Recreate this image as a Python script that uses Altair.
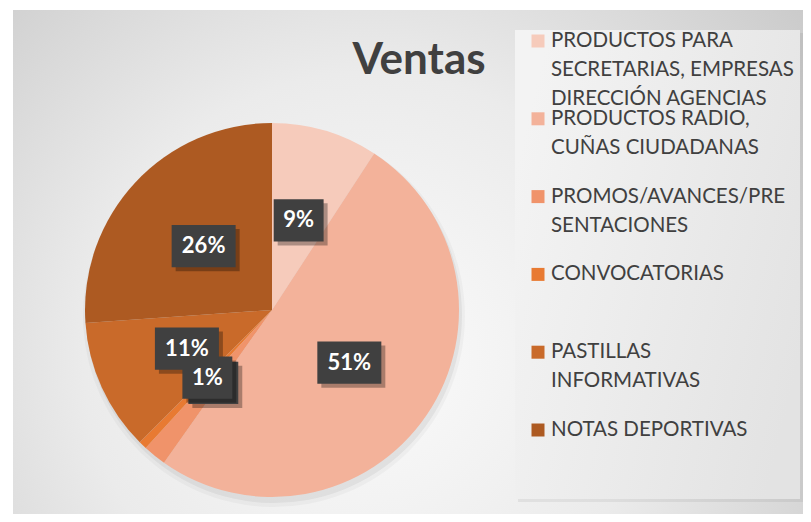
import altair as alt
import pandas as pd

# ---------------- data ----------------
categories = [
    "PRODUCTOS PARA SECRETARIAS, EMPRESAS DIRECCIÓN AGENCIAS",
    "PRODUCTOS RADIO, CUÑAS CIUDADANAS",
    "PROMOS/AVANCES/PRESENTACIONES",
    "CONVOCATORIAS",
    "PASTILLAS INFORMATIVAS",
    "NOTAS DEPORTIVAS",
]
values = [9.2, 50.6, 2.0, 0.7, 11.4, 26.1]
legend_lines = [
    ["PRODUCTOS PARA", "SECRETARIAS, EMPRESAS", "DIRECCIÓN AGENCIAS"],
    ["PRODUCTOS RADIO,", "CUÑAS CIUDADANAS"],
    ["PROMOS/AVANCES/PRE", "SENTACIONES"],
    ["CONVOCATORIAS"],
    ["PASTILLAS", "INFORMATIVAS"],
    ["NOTAS DEPORTIVAS"],
]
colors = ["#F6CBBB", "#F3B29A", "#F0936A", "#E87A32", "#C96A2A", "#AD5A22"]
title_text = "Ventas"

pie_df = pd.DataFrame({"cat": categories, "value": values, "idx": list(range(len(categories)))})
leg_rows = []
for i, lines in enumerate(legend_lines):
    for j, t in enumerate(lines):
        leg_rows.append({"idx": i, "line": j, "txt": t, "cat": categories[i]})
leg_df = pd.DataFrame(leg_rows)
one = pd.DataFrame({"a": [1]})

# ---------------- layout ----------------
W, H = 795, 506
CX, CY, R = 264, 302, 187
FONT = "Lato"

color = alt.Color("cat:N", scale=alt.Scale(domain=categories, range=colors), legend=None)

bg_grad = {
    "gradient": "radial",
    "x1": 0.45, "y1": 0.62, "r1": 0,
    "x2": 0.45, "y2": 0.62, "r2": 0.8,
    "stops": [
        {"offset": 0, "color": "#fbfbfb"},
        {"offset": 0.45, "color": "#ebebeb"},
        {"offset": 1, "color": "#c2c2c2"},
    ],
}
box_grad = {
    "gradient": "linear",
    "x1": 0, "y1": 0.3, "x2": 1, "y2": 0.7,
    "stops": [
        {"offset": 0, "color": "#f3f3f3"},
        {"offset": 1, "color": "#e3e3e3"},
    ],
}

bg = alt.Chart(one).mark_rect(fill=bg_grad).encode(
    x=alt.value(5), x2=alt.value(W), y=alt.value(2), y2=alt.value(H)
)
box_shadow = alt.Chart(one).mark_rect(fill="#000000", opacity=0.06).encode(
    x=alt.value(510), x2=alt.value(W), y=alt.value(25), y2=alt.value(494)
)
box = alt.Chart(one).mark_rect(fill=box_grad).encode(
    x=alt.value(507), x2=alt.value(W - 3), y=alt.value(22), y2=alt.value(491)
)

pie_shadow1 = alt.Chart(pie_df).mark_arc(radius=R + 1, fill="#000000", opacity=0.05).encode(
    theta=alt.Theta("value:Q", stack=True),
    order=alt.Order("idx:Q"),
    x=alt.value(CX + 2), y=alt.value(CY + 5),
)
pie_shadow2 = alt.Chart(pie_df).mark_arc(radius=R + 4, fill="#000000", opacity=0.03).encode(
    theta=alt.Theta("value:Q", stack=True),
    order=alt.Order("idx:Q"),
    x=alt.value(CX + 2), y=alt.value(CY + 6),
)
pie = alt.Chart(pie_df).mark_arc(radius=R).encode(
    theta=alt.Theta("value:Q", stack=True),
    order=alt.Order("idx:Q"),
    color=color,
    x=alt.value(CX), y=alt.value(CY),
)

lab_base = (
    alt.Chart(pie_df)
    .transform_joinaggregate(total="sum(value)")
    .transform_window(cum="sum(value)", sort=[alt.SortField("idx")], frame=[None, 0])
    .transform_calculate(
        pct="datum.value / datum.total",
        mid="(datum.cum - datum.value / 2) / datum.total * 2 * PI",
        lx="0.5 * sin(datum.mid)",
        ly="0.5 * cos(datum.mid)",
        lbl="format(datum.value / datum.total, '.0%')",
    )
    .transform_calculate(w="'w' + length(datum.lbl)")
)
xs = alt.X("lx:Q", scale=alt.Scale(domain=[-1, 1], range=[CX - R, CX + R], nice=False, zero=False), axis=None)
ys = alt.Y("ly:Q", scale=alt.Scale(domain=[-1, 1], range=[CY + R, CY - R], nice=False, zero=False), axis=None)
path2 = "M-0.78,-0.66H0.78V0.66H-0.78Z"
path3 = "M-1,-0.66H1V0.66H-1Z"
shape = alt.Shape("w:N", scale=alt.Scale(domain=["w2", "w3"], range=[path2, path3]), legend=None)


def label_pass(cond):
    b = lab_base.transform_filter(cond)
    sh = b.mark_point(filled=True, opacity=0.3, size=64 ** 2, color="#000000", strokeWidth=0,
                      xOffset=4, yOffset=4).encode(x=xs, y=ys, shape=shape)
    bx = b.mark_point(filled=True, opacity=1, size=64 ** 2, color="#404040", strokeWidth=0).encode(
        x=xs, y=ys, shape=shape)
    tx = b.mark_text(font=FONT, fontWeight="bold", fontSize=22, color="#ffffff",
                     align="center", baseline="middle").encode(x=xs, y=ys, text="lbl:N")
    return [sh, bx, tx]


labels_a = label_pass("datum.idx <= 2")
labels_b = label_pass("datum.idx > 2")

leg_base = alt.Chart(leg_df).transform_calculate(pos="datum.idx + datum.line * 0.373")
leg_y = alt.Y("pos:Q", scale=alt.Scale(domain=[0, 5], range=[33, 422], nice=False, zero=False), axis=None)
leg_sq = leg_base.transform_filter("datum.line == 0").mark_square(size=169, opacity=1).encode(
    x=alt.value(530), y=leg_y, color=color
)
leg_tx = leg_base.mark_text(font=FONT, fontSize=20.5, color="#404040", align="left", baseline="middle").encode(
    x=alt.value(543), y=leg_y, text="txt:N"
)

title = alt.Chart(one).mark_text(text=title_text, font=FONT, fontWeight="bold", fontSize=44,
                                 color="#404040", align="center", baseline="middle").encode(
    x=alt.value(411), y=alt.value(53)
)

chart = (
    alt.layer(bg, box_shadow, box, pie_shadow2, pie_shadow1, pie, *labels_a, *labels_b, leg_sq, leg_tx, title)
    .resolve_scale(x="independent", y="independent")
    .properties(width=W, height=H, padding=0, autosize="none", background="white")
    .configure_view(stroke=None)
)

chart.save("out.html", embed_options={"renderer": "svg", "actions": False})
